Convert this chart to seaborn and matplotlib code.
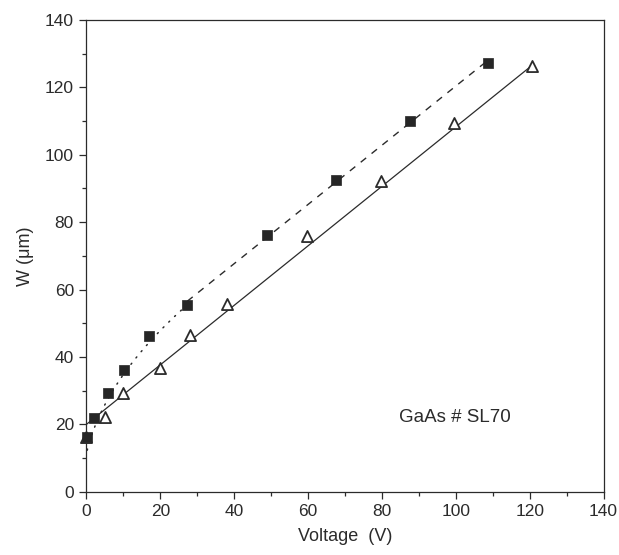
import numpy as np
import pandas as pd
import matplotlib
matplotlib.use("Agg")
import matplotlib.pyplot as plt
from matplotlib.ticker import MultipleLocator
import seaborn as sns

# Measured depletion width vs. reverse bias
square_voltage = [0.2, 2.0, 5.9, 10.2, 17.0, 27.3, 48.8, 67.5, 87.7, 108.8]
square_width = [16.3, 22.0, 29.3, 36.0, 46.1, 55.4, 76.3, 92.6, 110.0, 127.2]

triangle_voltage = [0.0, 5.0, 10.0, 20.0, 28.0, 38.0, 59.7, 79.7, 99.5, 120.5]
triangle_width = [16.2, 22.2, 29.2, 36.6, 46.5, 55.6, 75.8, 92.3, 109.3, 126.4]

# Model parameters for the fitted curves
sqrt_w0_sq = 130.0      # W^2 at V = 0 (um^2)
sqrt_slope = 108.0      # d(W^2)/dV (um^2/V)
sqrt_v_range = (0.2, 27.3)
lin_v_split = 27.0      # square data above this bias follow a straight line
solid_intercept = 20.0
solid_slope = 0.883

sns.set_theme(style="ticks")
plt.rcParams["font.family"] = ["Liberation Sans", "DejaVu Sans"]
ink = "#2b2b2b"

fig = plt.figure(figsize=(6.19, 5.55), dpi=100, facecolor="white")
ax = fig.add_axes([0.1397, 0.114, 0.8353, 0.850])

# Square-root (low bias) part of the square-series fit
v_low = np.linspace(sqrt_v_range[0], sqrt_v_range[1], 200)
low_fit = pd.DataFrame({"V": v_low, "W": np.sqrt(sqrt_w0_sq + sqrt_slope * v_low)})
sns.lineplot(data=low_fit, x="V", y="W", ax=ax, color=ink, lw=1.1,
             linestyle=(0, (0.8, 4.5)), dash_capstyle="round")

# Linear (high bias) part of the square-series fit
sv = np.array(square_voltage)
sw = np.array(square_width)
hi = sv >= lin_v_split
p = np.polyfit(sv[hi], sw[hi], 1)
v_high = np.linspace(sv[hi].min(), sv[hi].max(), 50)
high_fit = pd.DataFrame({"V": v_high, "W": np.polyval(p, v_high)})
sns.lineplot(data=high_fit, x="V", y="W", ax=ax, color=ink, lw=1.0,
             linestyle=(0, (5, 5)))

# Straight line for the triangle series
v_tri = np.linspace(0, max(triangle_voltage), 50)
tri_fit = pd.DataFrame({"V": v_tri, "W": solid_intercept + solid_slope * v_tri})
sns.lineplot(data=tri_fit, x="V", y="W", ax=ax, color=ink, lw=0.9)

tri = pd.DataFrame({"V": triangle_voltage, "W": triangle_width})
sns.scatterplot(data=tri, x="V", y="W", ax=ax, marker="^", s=64,
                facecolor="white", edgecolor=ink, linewidth=1.3, zorder=4,
                clip_on=False)

sq = pd.DataFrame({"V": square_voltage, "W": square_width})
sns.scatterplot(data=sq, x="V", y="W", ax=ax, marker="s", s=42,
                color="#262626", edgecolor="#262626", linewidth=0.5, zorder=5,
                clip_on=False)

ax.set_xlim(0, 140)
ax.set_ylim(0, 140)
ax.xaxis.set_major_locator(MultipleLocator(20))
ax.xaxis.set_minor_locator(MultipleLocator(10))
ax.yaxis.set_major_locator(MultipleLocator(20))
ax.yaxis.set_minor_locator(MultipleLocator(10))
ax.tick_params(which="major", direction="out", length=5, width=0.9,
               color=ink, labelsize=12.5, labelcolor=ink, pad=4)
ax.tick_params(which="minor", direction="out", length=3, width=0.9, color=ink)
ax.tick_params(top=False, right=False, which="both")
for s in ax.spines.values():
    s.set_visible(True)
    s.set_color(ink)
    s.set_linewidth(0.9)

ax.set_xlabel("Voltage  (V)", fontsize=13, color=ink, labelpad=6)
ax.set_ylabel("W (\u03bcm)", fontsize=13, color=ink, labelpad=8)

ax.text(84.7, 22, "GaAs # SL70", fontsize=13.5, color=ink, va="center", ha="left")

ax.set_facecolor("white")
fig.savefig("out.png", dpi=100, facecolor="white")
